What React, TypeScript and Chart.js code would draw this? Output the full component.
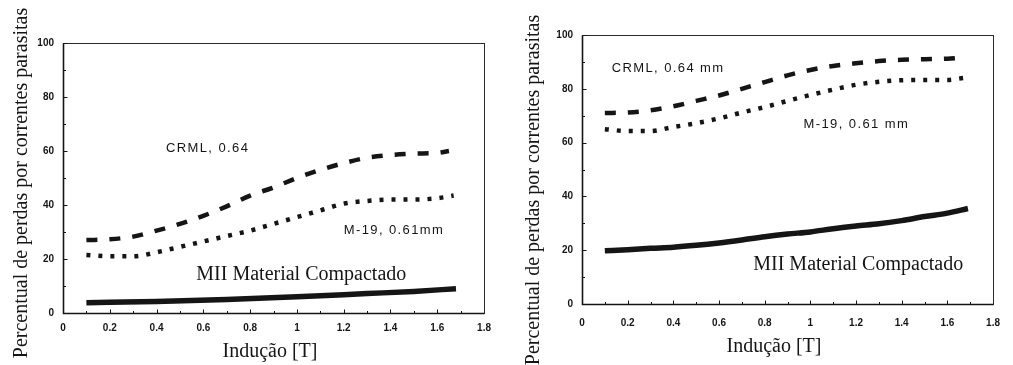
import React, { useEffect, useRef } from "react";
import { Chart, registerables } from "chart.js";

Chart.register(...registerables);

// ---------- Data ----------
const xTickStep = 0.2;
const yTickStep = 20;

const yAxisTitle = "Percentual de perdas por correntes parasitas";
const xAxisTitle = "Indução [T]";

// Left panel
const crmlLeftX = [0.1, 0.2, 0.3, 0.4, 0.5, 0.6, 0.7, 0.8, 0.9, 1.0, 1.1, 1.2, 1.3, 1.4, 1.5, 1.6, 1.65];
const crmlLeftY = [27, 27.3, 28.3, 30.5, 33, 36, 39.5, 43.5, 46.5, 50, 53, 55.5, 57.5, 58.5, 59, 59.3, 60];
const m19LeftX = [0.1, 0.2, 0.3, 0.4, 0.5, 0.6, 0.7, 0.8, 0.9, 1.0, 1.1, 1.2, 1.3, 1.4, 1.5, 1.6, 1.67];
const m19LeftY = [21.5, 21, 21, 22.5, 24.5, 26.5, 28.5, 30.5, 33, 35.5, 38, 40.5, 41.5, 42, 42, 42.5, 43.5];
const miiLeftX = [0.1, 0.4, 0.7, 1.0, 1.3, 1.5, 1.68];
const miiLeftY = [3.8, 4.3, 5.0, 6.0, 7.2, 8.0, 9.0];

// Right panel
const crmlRightX = [0.1, 0.2, 0.3, 0.4, 0.5, 0.6, 0.7, 0.8, 0.9, 1.0, 1.1, 1.2, 1.3, 1.4, 1.5, 1.6, 1.65];
const crmlRightY = [71, 71.2, 72, 73.5, 75.5, 77.5, 80, 82.5, 85, 87, 88.5, 89.5, 90.3, 90.8, 91, 91.2, 91.5];
const m19RightX = [0.1, 0.2, 0.3, 0.4, 0.5, 0.6, 0.7, 0.8, 0.9, 1.0, 1.1, 1.2, 1.3, 1.4, 1.5, 1.6, 1.67];
const m19RightY = [65, 64.3, 64.3, 65.8, 67.2, 69, 71.2, 73.2, 75.5, 77.7, 79.7, 81.5, 82.6, 83.2, 83.3, 83.3, 84];
const miiRightX = [0.1, 0.2, 0.3, 0.4, 0.5, 0.6, 0.7, 0.8, 0.9, 1.0, 1.1, 1.2, 1.3, 1.4, 1.5, 1.6, 1.69];
const miiRightY = [19.8, 20.2, 20.7, 21.1, 21.8, 22.7, 23.8, 25, 26, 26.8, 28, 29, 29.8, 31, 32.5, 33.8, 35.5];

// Curve labels (text + data-space anchor)
const leftLabels = [
  { text: "CRML, 0.64", x: 0.44, y: 61, kind: "sans" },
  { text: "M-19, 0.61mm", x: 1.2, y: 30.4, kind: "sans" },
  { text: "MII Material Compactado", x: 0.57, y: 12.2, kind: "serif" },
];
const rightLabels = [
  { text: "CRML, 0.64 mm", x: 0.13, y: 87.7, kind: "sans" },
  { text: "M-19, 0.61 mm", x: 0.97, y: 66.9, kind: "sans" },
  { text: "MII Material Compactado", x: 0.75, y: 12.6, kind: "serif" },
];

// ---------- Styling ----------
const INK = "#151515";
const FRAME = "#2a2a2a";
const SERIF = "'Liberation Serif', 'DejaVu Serif', serif";
const SANS = "'Liberation Sans', Arial, sans-serif";

const zip = (xs: number[], ys: number[]) => xs.map((x, i) => ({ x, y: ys[i] }));

const notesPlugin = {
  id: "notes",
  beforeDatasetsDraw(chart: any) {
    const { ctx, chartArea: ca, scales } = chart;
    const xs = scales.x;
    const ys = scales.y;
    const l = Math.round(ca.left) + 0.5;
    const t = Math.round(ca.top) + 0.5;
    const r = Math.round(ca.right) + 0.5;
    const b = Math.round(ca.bottom) + 0.5;
    ctx.save();
    ctx.strokeStyle = FRAME;
    ctx.lineWidth = 1;
    ctx.strokeRect(l, t, r - l, b - t);
    ctx.strokeStyle = INK;
    ctx.lineWidth = 1.6;
    ctx.beginPath();
    ctx.moveTo(l, t);
    ctx.lineTo(l, b);
    ctx.lineTo(r, b);
    ctx.stroke();
    // inward tick marks
    ctx.lineWidth = 1;
    ctx.beginPath();
    for (let v = 0; v <= 100; v += 10) {
      const py = Math.round(ys.getPixelForValue(v)) + 0.5;
      const len = v % 20 === 0 ? 4 : 2.5;
      ctx.moveTo(l, py);
      ctx.lineTo(l + len, py);
    }
    for (let i = 1; i < 18; i++) {
      const px = Math.round(xs.getPixelForValue(i / 10)) + 0.5;
      const len = i % 2 === 0 ? 4 : 2.5;
      ctx.moveTo(px, b);
      ctx.lineTo(px, b - len);
    }
    ctx.stroke();
    ctx.restore();
  },
  afterDatasetsDraw(chart: any, _a: any, opts: any) {
    const { ctx, scales } = chart;
    const xs = scales.x;
    const ys = scales.y;
    ctx.save();
    ctx.fillStyle = INK;
    for (const lab of opts.labels) {
      const px = xs.getPixelForValue(lab.x);
      const py = ys.getPixelForValue(lab.y);
      ctx.textAlign = "left";
      if (lab.kind === "sans") {
        ctx.font = `13px ${SANS}`;
        (ctx as any).letterSpacing = "1.4px";
        ctx.textBaseline = "middle";
      } else {
        ctx.font = `20px ${SERIF}`;
        (ctx as any).letterSpacing = "0px";
        ctx.textBaseline = "alphabetic";
      }
      ctx.fillText(lab.text, px, py);
    }
    (ctx as any).letterSpacing = "0px";
    // axis titles
    ctx.font = `20px ${SERIF}`;
    ctx.textAlign = "center";
    ctx.textBaseline = "alphabetic";
    ctx.fillText(xAxisTitle, opts.xTitle.cx, opts.xTitle.base);
    ctx.translate(opts.yTitle.base, opts.yTitle.cy);
    ctx.rotate(-Math.PI / 2);
    ctx.fillText(yAxisTitle, 0, 0);
    ctx.restore();
  },
};

type Panel = {
  width: number;
  top: number;
  right: number;
  leftW: number;
  bottomH: number;
  xPad: number;
  yPad: number;
  yTitle: { base: number; cy: number };
  xTitle: { cx: number; base: number };
  labels: any[];
  crml: { x: number; y: number }[];
  m19: { x: number; y: number }[];
  mii: { x: number; y: number }[];
};

function makeConfig(p: Panel): any {
  const tickFont = { family: SANS, size: 10, weight: "bold" as const };
  const base = { borderColor: INK, pointRadius: 0, fill: false, cubicInterpolationMode: "monotone" as const };
  return {
    type: "line",
    data: {
      datasets: [
        { ...base, label: "CRML", data: p.crml, borderWidth: 4.5, borderDash: [11, 12] },
        { ...base, label: "M-19", data: p.m19, borderWidth: 4.5, borderDash: [4, 8] },
        { ...base, label: "MII", data: p.mii, borderWidth: 5.5 },
      ],
    },
    options: {
      animation: false,
      responsive: false,
      maintainAspectRatio: false,
      layout: { padding: { top: p.top, right: p.right, left: 0, bottom: 0 } },
      plugins: {
        legend: { display: false },
        tooltip: { enabled: false },
        notes: { labels: p.labels, yTitle: p.yTitle, xTitle: p.xTitle },
      },
      scales: {
        x: {
          type: "linear",
          min: 0,
          max: 1.8,
          grid: { display: false, drawTicks: false },
          border: { display: false },
          ticks: {
            stepSize: xTickStep,
            padding: p.xPad,
            maxRotation: 0,
            autoSkip: false,
            color: INK,
            font: tickFont,
            callback: (v: number) => String(Math.round(v * 10) / 10),
          },
          afterFit: (s: any) => {
            s.height = p.bottomH;
          },
        },
        y: {
          type: "linear",
          min: 0,
          max: 100,
          grid: { display: false, drawTicks: false },
          border: { display: false },
          ticks: { stepSize: yTickStep, padding: p.yPad, color: INK, font: tickFont },
          afterFit: (s: any) => {
            s.width = p.leftW;
          },
        },
      },
    },
    plugins: [notesPlugin],
  };
}

const leftPanel: Panel = {
  width: 500,
  top: 43,
  right: 12,
  leftW: 63,
  bottomH: 52,
  xPad: 9,
  yPad: 9,
  yTitle: { base: 27, cy: 183 },
  xTitle: { cx: 270, base: 357 },
  labels: leftLabels,
  crml: zip(crmlLeftX, crmlLeftY),
  m19: zip(m19LeftX, m19LeftY),
  mii: zip(miiLeftX, miiLeftY),
};

const rightPanel: Panel = {
  width: 513,
  top: 35,
  right: 13,
  leftW: 82,
  bottomH: 61,
  xPad: 13,
  yPad: 9,
  yTitle: { base: 39, cy: 190 },
  xTitle: { cx: 274, base: 352 },
  labels: rightLabels,
  crml: zip(crmlRightX, crmlRightY),
  m19: zip(m19RightX, m19RightY),
  mii: zip(miiRightX, miiRightY),
};

function ChartPanel({ panel, left }: { panel: Panel; left: number }) {
  const ref = useRef<HTMLCanvasElement | null>(null);
  useEffect(() => {
    if (!ref.current) return;
    const chart = new Chart(ref.current, makeConfig(panel));
    return () => chart.destroy();
  }, [panel]);
  return (
    <canvas
      ref={ref}
      width={panel.width}
      height={365}
      style={{ position: "absolute", left, top: 0, width: panel.width, height: 365 }}
    />
  );
}

export default function App() {
  return (
    <div style={{ position: "absolute", left: 0, top: 0, width: 1013, height: 365, background: "#fff", overflow: "hidden" }}>
      <ChartPanel panel={leftPanel} left={0} />
      <ChartPanel panel={rightPanel} left={500} />
    </div>
  );
}
